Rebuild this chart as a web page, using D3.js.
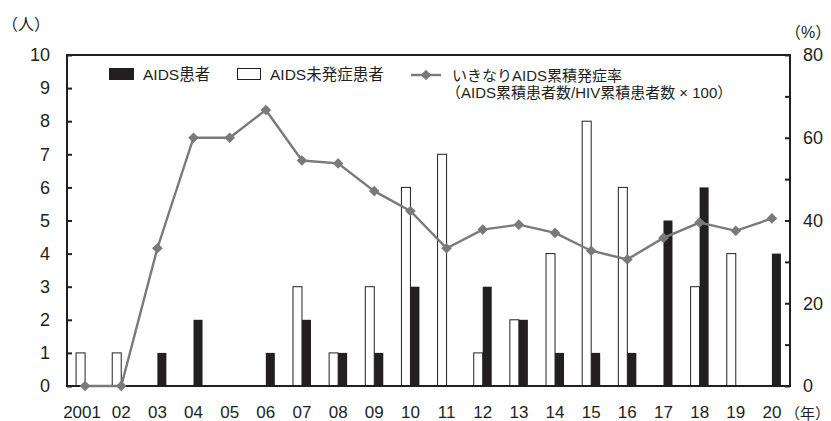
<!DOCTYPE html>
<html>
<head>
<meta charset="utf-8">
<script src="https://cdn.jsdelivr.net/npm/d3@7/dist/d3.min.js"></script>
<style>
  body { margin: 0; background: #fff; }
  text { font-family: "Liberation Sans", Arial, "Noto Sans CJK JP", sans-serif; fill: #231f20; }
  .jp { font-family: "Liberation Sans", "Noto Sans CJK JP", sans-serif; }
</style>
</head>
<body>
<svg id="chart" width="831" height="421"></svg>
<script>
// Year labels along the bottom axis
const years = ["2001","02","03","04","05","06","07","08","09","10",
               "11","12","13","14","15","16","17","18","19","20"];
// AIDS patients per year (people)
const aidsCases = [0,0,1,2,0,1,2,1,1,3,0,3,2,1,1,1,5,6,0,4];
// HIV patients without AIDS onset per year (people)
const hivCases  = [1,1,0,0,0,0,3,1,3,6,7,1,2,4,8,6,0,3,4,0];
// Cumulative rate of AIDS at diagnosis (%)
const aidsRate  = [0,0,33.3,60,60,66.7,54.5,53.8,47.1,42.3,
                   33.3,37.8,39.0,37.0,32.7,30.6,35.8,39.5,37.5,40.5];
const leftTicks  = [0,1,2,3,4,5,6,7,8,9,10];
const rightTicks = [0,10,20,30,40,50,60,70,80];

const svg = d3.select("#chart");
const plot = { left: 67, right: 790, top: 55, bottom: 386 };

const x = d3.scaleBand().domain(years).range([plot.left, plot.right]).padding(0);
const yL = d3.scaleLinear().domain([0, 10]).range([plot.bottom, plot.top]);
const yR = d3.scaleLinear().domain([0, 80]).range([plot.bottom, plot.top]);
const barW = 9;
const ink = "#231f20";
const grey = "#7a7a7a";
const cx = d => x(d) + x.bandwidth() / 2;

// Bars: non-onset (white) left of center, AIDS (black) right of center
svg.append("g").selectAll("rect").data(years).join("rect")
  .attr("x", d => cx(d) - barW)
  .attr("y", (d, i) => yL(hivCases[i]))
  .attr("width", barW)
  .attr("height", (d, i) => yL(0) - yL(hivCases[i]))
  .attr("fill", "#fff").attr("stroke", ink).attr("stroke-width", 1)
  .style("display", (d, i) => hivCases[i] > 0 ? null : "none");

svg.append("g").selectAll("rect").data(years).join("rect")
  .attr("x", d => cx(d))
  .attr("y", (d, i) => yL(aidsCases[i]))
  .attr("width", barW)
  .attr("height", (d, i) => yL(0) - yL(aidsCases[i]))
  .attr("fill", ink)
  .style("display", (d, i) => aidsCases[i] > 0 ? null : "none");

// Frame around the plot area
svg.append("rect")
  .attr("x", plot.left).attr("y", plot.top)
  .attr("width", plot.right - plot.left).attr("height", plot.bottom - plot.top)
  .attr("fill", "none").attr("stroke", ink).attr("stroke-width", 2);

// Left axis (people)
const gL = svg.append("g").attr("transform", `translate(${plot.left},0)`)
  .call(d3.axisLeft(yL).tickValues(leftTicks).tickSizeInner(-5).tickSizeOuter(0).tickPadding(17));
gL.select(".domain").remove();
gL.selectAll("line").attr("stroke", ink).attr("stroke-width", 2);
gL.selectAll("text").attr("font-size", 18);

// Right axis (percent)
const gR = svg.append("g").attr("transform", `translate(${plot.right},0)`)
  .call(d3.axisRight(yR).tickValues(rightTicks).tickSizeInner(-5).tickSizeOuter(0).tickPadding(13)
    .tickFormat(d => d % 20 === 0 ? d : ""));
gR.select(".domain").remove();
gR.selectAll("line").attr("stroke", ink).attr("stroke-width", 2);
gR.selectAll("text").attr("font-size", 18);

// Bottom axis (years)
const gB = svg.append("g").attr("transform", `translate(0,${plot.bottom})`)
  .call(d3.axisBottom(x).tickSize(0).tickPadding(20));
gB.select(".domain").remove();
gB.selectAll("text").attr("font-size", 17)
  .attr("dx", d => d === "2001" ? -3 : 0);

// Cumulative rate line
const line = d3.line()
  .x((d, i) => cx(years[i]))
  .y(d => yR(d));
svg.append("path").datum(aidsRate)
  .attr("d", line).attr("fill", "none").attr("stroke", grey).attr("stroke-width", 2.4);

const diamond = d3.symbol().type(d3.symbolDiamond2).size(72);
svg.append("g").selectAll("path").data(aidsRate).join("path")
  .attr("d", diamond)
  .attr("transform", (d, i) => `translate(${cx(years[i])},${yR(d)})`)
  .attr("fill", grey);

// Unit labels
svg.append("text").attr("class", "jp").attr("x", 2).attr("y", 30).attr("font-size", 16).text("（人）");
svg.append("text").attr("class", "jp").attr("x", 785).attr("y", 38).attr("font-size", 16).text("（%）");
svg.append("text").attr("class", "jp").attr("x", 785).attr("y", 419).attr("font-size", 15).text("（年）");

// Legend
const lg = svg.append("g").attr("class", "jp");
lg.append("rect").attr("x", 109).attr("y", 68).attr("width", 25).attr("height", 12).attr("fill", ink);
lg.append("text").attr("x", 143).attr("y", 80).attr("font-size", 15.5).text("AIDS患者");
lg.append("rect").attr("x", 237.5).attr("y", 68.5).attr("width", 23).attr("height", 11)
  .attr("fill", "#fff").attr("stroke", ink).attr("stroke-width", 1);
lg.append("text").attr("x", 270).attr("y", 80).attr("font-size", 15.5).text("AIDS未発症患者");
lg.append("line").attr("x1", 411).attr("x2", 441).attr("y1", 75).attr("y2", 75)
  .attr("stroke", grey).attr("stroke-width", 2.4);
lg.append("path").attr("d", diamond).attr("transform", "translate(426,75)").attr("fill", grey);
lg.append("text").attr("x", 452).attr("y", 81).attr("font-size", 15).text("いきなりAIDS累積発症率");
lg.append("text").attr("x", 446).attr("y", 98).attr("font-size", 15).text("（AIDS累積患者数/HIV累積患者数 × 100）");
</script>
</body>
</html>
